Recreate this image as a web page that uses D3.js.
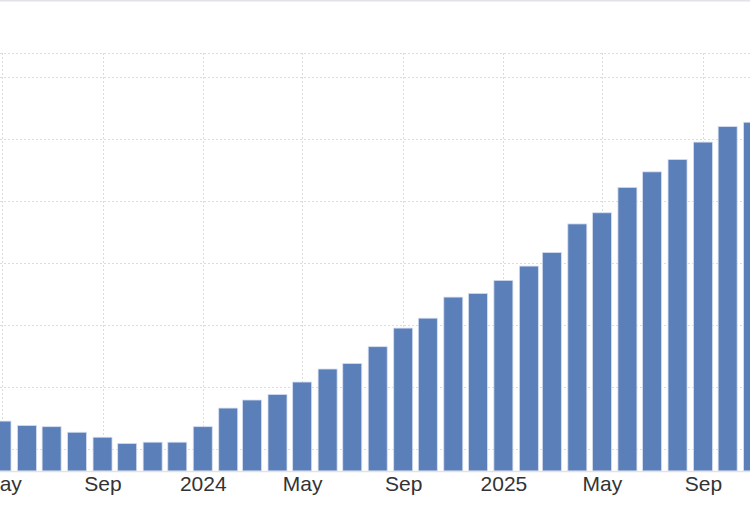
<!DOCTYPE html>
<html>
<head>
<meta charset="utf-8">
<script src="https://cdn.jsdelivr.net/npm/d3@7"></script>
<style>
  body { margin: 0; background: #fff; }
  svg { display: block; font-family: "Liberation Sans", Arial, sans-serif; }
</style>
</head>
<body>
<svg width="750" height="516"></svg>
<script>
// monthly values, May 2023 .. Nov 2025
const months = [
  "2023-05", "2023-06", "2023-07", "2023-08", "2023-09", "2023-10", "2023-11", "2023-12",
  "2024-01", "2024-02", "2024-03", "2024-04", "2024-05", "2024-06", "2024-07", "2024-08",
  "2024-09", "2024-10", "2024-11", "2024-12",
  "2025-01", "2025-02", "2025-03", "2025-04", "2025-05", "2025-06", "2025-07", "2025-08",
  "2025-09", "2025-10", "2025-11"
];
const values = [
  14.5, 13.8, 13.6, 12.7, 11.9, 10.9, 11.1, 11.1,
  13.6, 16.6, 17.9, 18.8, 20.8, 22.9, 23.8, 26.5,
  29.5, 31.1, 34.5, 35.1,
  37.2, 39.5, 41.7, 46.3, 48.1, 52.2, 54.7, 56.7,
  59.5, 62.0, 62.7
];
// gridline levels (no labels shown in the crop)
const yTicks = [10, 20, 30, 40, 50, 60, 70];
const xTicks = ["2023-05", "2023-09", "2024-01", "2024-05", "2024-09", "2025-01", "2025-05", "2025-09"];

var svg = d3.select("svg"),
    width = +svg.attr("width"),
    height = +svg.attr("height");

const parse = d3.timeParse("%Y-%m");
const data = months.map((m, i) => ({ date: parse(m), value: values[i] }));

const plotTop = 53, plotBottom = 471;

var x = d3.scaleTime()
    .domain([parse("2023-05"), parse("2025-09")])
    .range([1.5, 703]);

var y = d3.scaleLinear()
    .domain([6.45, 73.87])
    .range([plotBottom, plotTop]);

// top border of the container
svg.append("line")
    .attr("x1", 0).attr("x2", width)
    .attr("y1", 0.5).attr("y2", 0.5)
    .attr("stroke", "#e2e2ea")
    .attr("stroke-width", 2);

// grid
const grid = svg.append("g")
    .attr("stroke", "#dcdcdc")
    .attr("stroke-dasharray", "2,2");

grid.append("line")
    .attr("x1", 0).attr("x2", width)
    .attr("y1", plotTop + 0.5).attr("y2", plotTop + 0.5);

grid.selectAll(".hgrid")
    .data(yTicks)
    .enter().append("line")
    .attr("class", "hgrid")
    .attr("x1", 0).attr("x2", width)
    .attr("y1", d => Math.round(y(d)) + 0.5)
    .attr("y2", d => Math.round(y(d)) + 0.5);

grid.selectAll(".vgrid")
    .data(xTicks.map(parse))
    .enter().append("line")
    .attr("class", "vgrid")
    .attr("x1", d => Math.round(x(d)) + 0.5)
    .attr("x2", d => Math.round(x(d)) + 0.5)
    .attr("y1", plotTop)
    .attr("y2", plotBottom);

// bars
const barWidth = 19;
svg.append("g")
    .selectAll("rect")
    .data(data)
    .enter().append("rect")
    .attr("x", d => x(d.date) - barWidth / 2)
    .attr("y", d => y(d.value))
    .attr("width", barWidth)
    .attr("height", d => plotBottom - y(d.value))
    .attr("fill", "#5b7fb8")
    .attr("stroke", "#d6dff0")
    .attr("stroke-width", 0.8);

// x axis
const xAxis = d3.axisBottom(x)
    .tickValues(xTicks.map(parse))
    .tickSize(0)
    .tickPadding(5)
    .tickFormat(d => d.getMonth() === 0 ? d3.timeFormat("%Y")(d) : d3.timeFormat("%b")(d));

const gx = svg.append("g")
    .attr("transform", "translate(0," + plotBottom + ")")
    .call(xAxis);
gx.select(".domain").remove();
gx.selectAll("text")
    .attr("font-size", 21)
    .attr("font-family", "'Liberation Sans', Arial, sans-serif")
    .attr("fill", "#333");

svg.append("line")
    .attr("x1", 0).attr("x2", width)
    .attr("y1", plotBottom + 0.5).attr("y2", plotBottom + 0.5)
    .attr("stroke", "#e3e3e3")
    .attr("stroke-width", 1.5);
</script>
</body>
</html>
